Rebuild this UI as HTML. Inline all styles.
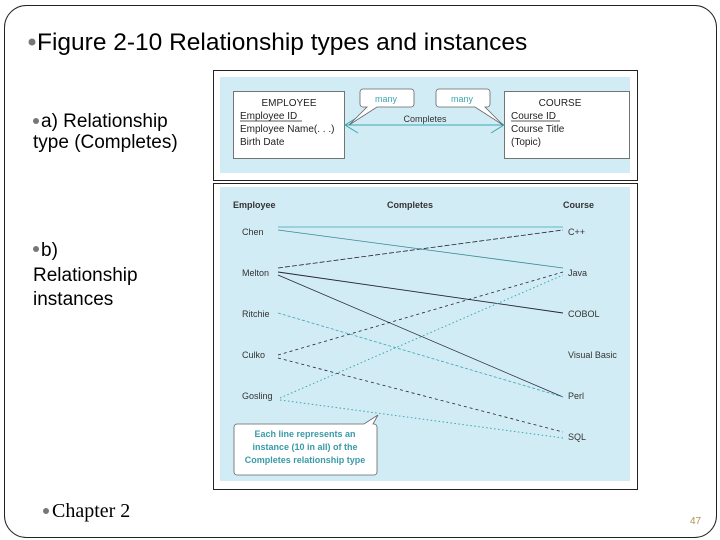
<!DOCTYPE html>
<html><head><meta charset="utf-8"><style>
html,body{margin:0;padding:0;background:#fff;}
svg{display:block;}
</style></head><body>
<svg width="720" height="540" viewBox="0 0 720 540" xmlns="http://www.w3.org/2000/svg" font-family="Liberation Sans, sans-serif">
<rect x="4.5" y="5.5" width="712" height="532" rx="22" fill="none" stroke="#222" stroke-width="1"/>
<circle cx="32" cy="42" r="3.5" fill="#777"/>
<text x="37" y="50" font-size="24.5" fill="#000">Figure 2-10 Relationship types and instances</text>
<circle cx="36" cy="121" r="3" fill="#777"/>
<text x="41" y="127" font-size="19">a) Relationship</text>
<text x="33" y="148" font-size="19">type (Completes)</text>
<circle cx="36" cy="249" r="3" fill="#777"/>
<text x="41" y="256" font-size="19">b)</text>
<text x="33" y="281" font-size="19">Relationship</text>
<text x="33" y="305" font-size="19">instances</text>
<circle cx="46" cy="511" r="3" fill="#777"/>
<text x="52" y="517" font-size="20" font-family="Liberation Serif, serif">Chapter 2</text>
<text x="690" y="524" font-size="10" fill="#b09050">47</text>

<!-- top figure -->
<rect x="213.5" y="70.5" width="424" height="110" fill="#fff" stroke="#222"/>
<rect x="220" y="77" width="410" height="96" fill="#d2ecf6"/>
<rect x="233.5" y="91.5" width="111" height="67" fill="#fff" stroke="#555" stroke-width="0.8"/>
<text x="289" y="106" font-size="10" text-anchor="middle" fill="#222">EMPLOYEE</text>
<text x="240" y="119" font-size="10" fill="#222">Employee ID</text>
<line x1="240" y1="121" x2="302" y2="121" stroke="#222" stroke-width="0.8"/>
<text x="240" y="132" font-size="10" fill="#222">Employee Name(. . .)</text>
<text x="240" y="145" font-size="10" fill="#222">Birth Date</text>
<rect x="504.5" y="91.5" width="125" height="67" fill="#fff" stroke="#555" stroke-width="0.8"/>
<text x="560" y="106" font-size="10" text-anchor="middle" fill="#222">COURSE</text>
<text x="511" y="119" font-size="10" fill="#222">Course ID</text>
<line x1="511" y1="121" x2="560" y2="121" stroke="#222" stroke-width="0.8"/>
<text x="511" y="132" font-size="10" fill="#222">Course Title</text>
<text x="511" y="145" font-size="10" fill="#222">(Topic)</text>
<line x1="345" y1="125" x2="504" y2="125" stroke="#3aa7b0" stroke-width="1"/>
<polyline points="358,117 345,125 358,133" fill="none" stroke="#3aa7b0"/>
<polyline points="491,117 504,125 491,133" fill="none" stroke="#3aa7b0"/>
<text x="425" y="122" font-size="9" text-anchor="middle" fill="#333">Completes</text>
<path d="M363,89 h48 a3,3 0 0 1 3,3 v12 a3,3 0 0 1 -3,3 h-34 l-28,18 l18,-18 h-4 a3,3 0 0 1 -3,-3 v-12 a3,3 0 0 1 3,-3z" fill="#fff" stroke="#666" stroke-width="0.8"/>
<text x="386" y="102" font-size="9" text-anchor="middle" fill="#3aa7b0">many</text>
<path d="M439,89 h48 a3,3 0 0 1 3,3 v12 a3,3 0 0 1 -3,3 h-2 l18,18 l-28,-18 h-36 a3,3 0 0 1 -3,-3 v-12 a3,3 0 0 1 3,-3z" fill="#fff" stroke="#666" stroke-width="0.8"/>
<text x="462" y="102" font-size="9" text-anchor="middle" fill="#3aa7b0">many</text>

<!-- bottom figure -->
<rect x="213.5" y="183.5" width="424" height="306" fill="#fff" stroke="#222"/>
<rect x="220" y="187" width="410" height="294" fill="#d2ecf6"/>
<g font-size="9" fill="#333">
<text x="233" y="208" font-weight="bold">Employee</text>
<text x="410" y="208" font-weight="bold" text-anchor="middle">Completes</text>
<text x="563" y="208" font-weight="bold">Course</text>
<text x="242" y="235">Chen</text>
<text x="242" y="276">Melton</text>
<text x="242" y="317">Ritchie</text>
<text x="242" y="358">Culko</text>
<text x="242" y="399">Gosling</text>
<text x="568" y="235">C++</text>
<text x="568" y="276">Java</text>
<text x="568" y="317">COBOL</text>
<text x="568" y="358">Visual Basic</text>
<text x="568" y="399">Perl</text>
<text x="568" y="440">SQL</text>
</g>
<g fill="none">
<line x1="278" y1="227" x2="563" y2="227" stroke="#3aa7b0" stroke-width="0.8"/>
<line x1="278" y1="230" x2="563" y2="268" stroke="#3a8a95" stroke-width="0.8"/>
<line x1="278" y1="268" x2="563" y2="230" stroke="#223" stroke-width="0.8" stroke-dasharray="5,2"/>
<line x1="278" y1="272" x2="563" y2="313" stroke="#223" stroke-width="0.9"/>
<line x1="278" y1="275" x2="563" y2="397" stroke="#223" stroke-width="0.7"/>
<line x1="278" y1="313" x2="563" y2="397" stroke="#3aa7b0" stroke-width="0.8" stroke-dasharray="3,2"/>
<line x1="278" y1="355" x2="563" y2="272" stroke="#223" stroke-width="0.8" stroke-dasharray="3,3"/>
<line x1="278" y1="358" x2="563" y2="432" stroke="#223" stroke-width="0.8" stroke-dasharray="3,3"/>
<line x1="280" y1="398" x2="563" y2="275" stroke="#3aa7b0" stroke-width="1" stroke-dasharray="1.5,2.5"/>
<line x1="280" y1="400" x2="563" y2="438" stroke="#3aa7b0" stroke-width="1" stroke-dasharray="1.5,2.5"/>
</g>
<path d="M237,424 h127 l14,-9 l-5,9 h1 a3,3 0 0 1 3,3 v45 a3,3 0 0 1 -3,3 h-137 a3,3 0 0 1 -3,-3 v-45 a3,3 0 0 1 3,-3z" fill="#fff" stroke="#666" stroke-width="0.8"/>
<g font-size="9" font-weight="bold" fill="#3a9aa8" text-anchor="middle">
<text x="305" y="437">Each line represents an</text>
<text x="305" y="450">instance (10 in all) of the</text>
<text x="305" y="463">Completes relationship type</text>
</g>
</svg>
</body></html>
